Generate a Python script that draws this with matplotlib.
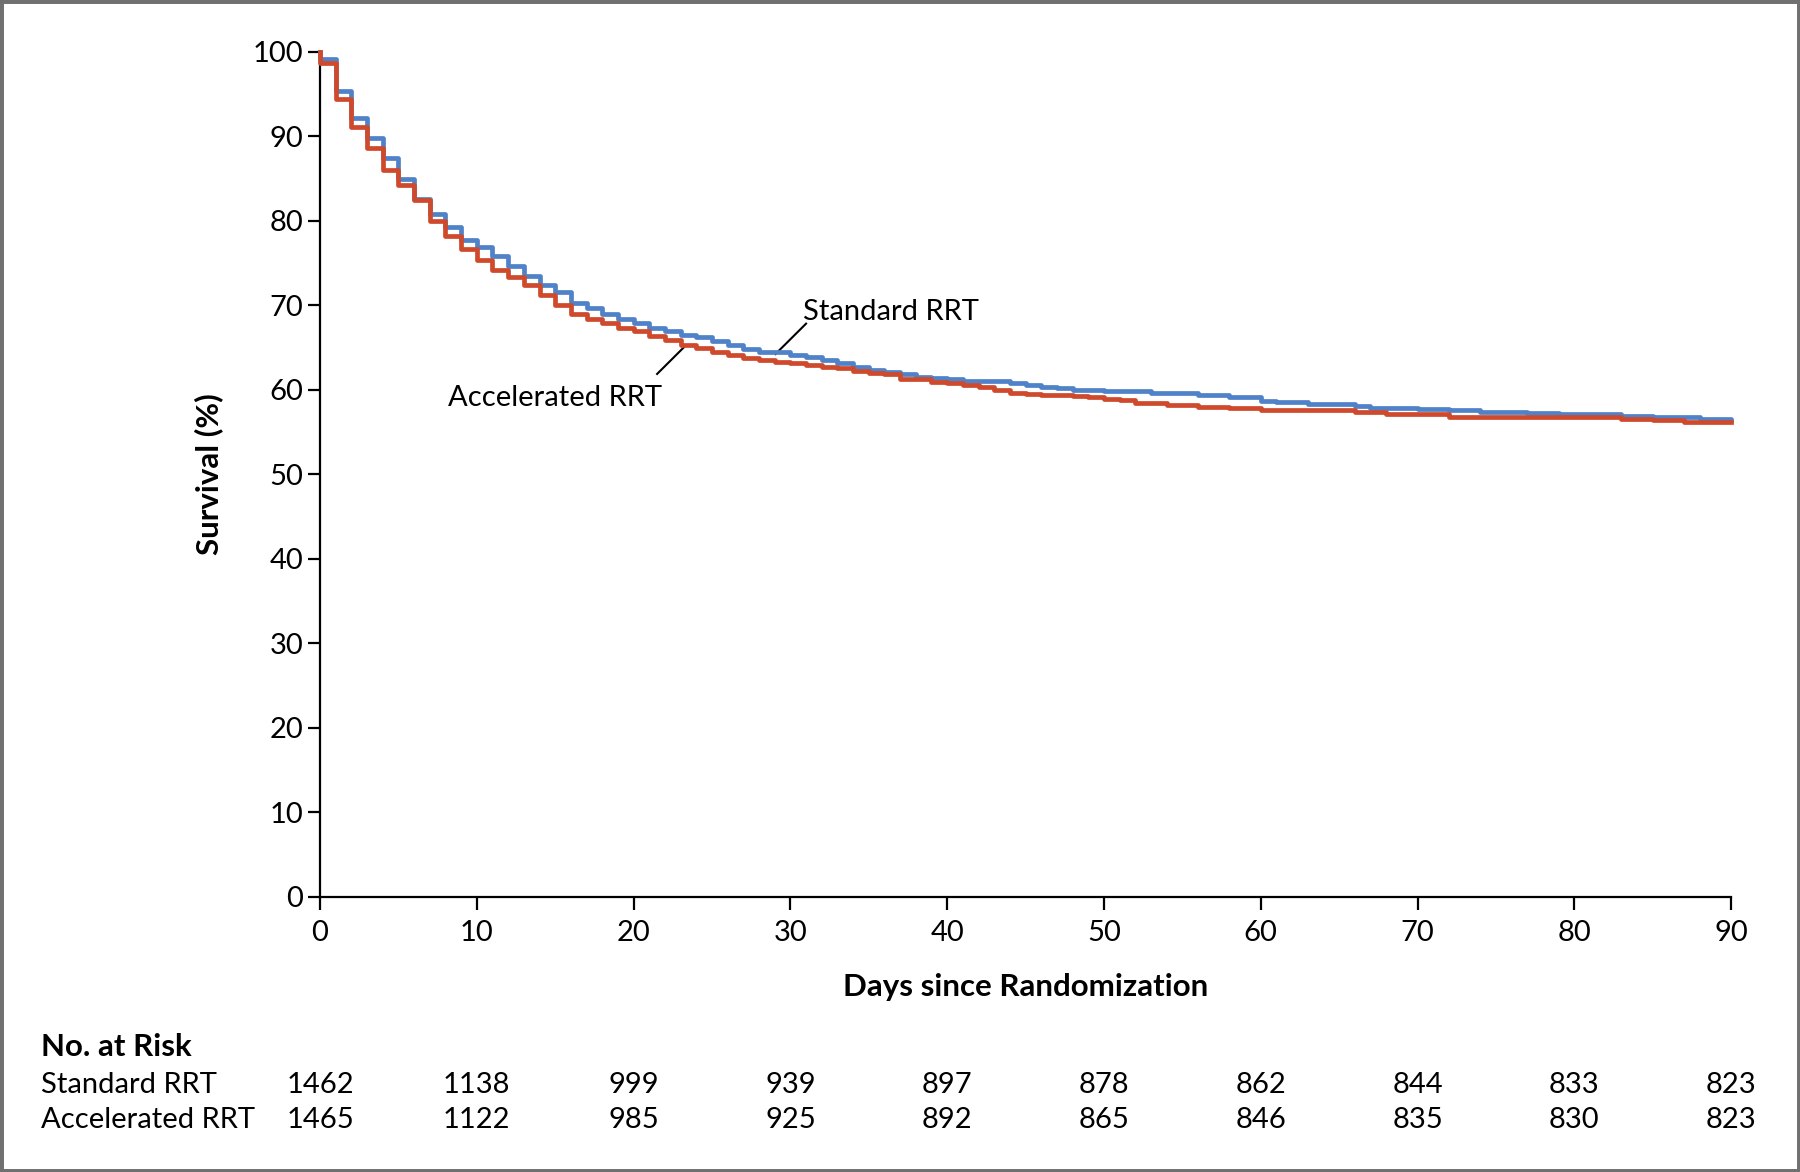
import matplotlib.pyplot as plt
import matplotlib.patches as mpatches
import matplotlib.transforms as mtransforms

plt.rcParams['font.family'] = ['Lato', 'DejaVu Sans']

# Kaplan-Meier step data (day, survival %)
std_days = [0, 0, 1, 2, 3, 4, 5, 6, 7, 8, 9, 10, 11, 12, 13, 14, 15, 16, 17, 18, 19,
            20, 21, 22, 23, 24, 25, 26, 27, 28, 30, 31, 32, 33, 34, 35, 36, 37, 38, 39,
            40, 41, 44, 45, 46, 47, 48, 49, 50, 51, 53, 56, 58, 60, 61, 63, 66, 67, 70,
            72, 74, 77, 79, 83, 85, 88, 90]
std_surv = [100, 99.1, 95.3, 92.1, 89.8, 87.4, 84.9, 82.5, 80.8, 79.2, 77.7, 76.9, 75.8,
            74.6, 73.4, 72.4, 71.5, 70.2, 69.6, 68.9, 68.3, 67.9, 67.3, 66.9, 66.5, 66.2,
            65.7, 65.3, 64.8, 64.5, 64.1, 63.8, 63.5, 63.1, 62.7, 62.3, 62.1, 61.8, 61.5,
            61.4, 61.2, 61.0, 60.8, 60.6, 60.35, 60.15, 60.0, 59.95, 59.85, 59.8, 59.65,
            59.4, 59.1, 58.7, 58.5, 58.3, 58.1, 57.8, 57.75, 57.6, 57.4, 57.2, 57.1, 56.9,
            56.7, 56.5, 56.4]

acc_days = [0, 0, 1, 2, 3, 4, 5, 6, 7, 8, 9, 10, 11, 12, 13, 14, 15, 16, 17, 18, 19,
            20, 21, 22, 23, 24, 25, 26, 27, 28, 29, 30, 31, 32, 33, 34, 35, 36, 37, 39,
            40, 41, 42, 43, 44, 45, 46, 48, 49, 50, 51, 52, 54, 56, 58, 60, 66, 68, 72,
            74, 83, 85, 87, 90]
acc_surv = [100, 98.6, 94.4, 91.1, 88.6, 86.0, 84.2, 82.4, 80.0, 78.2, 76.6, 75.3, 74.2,
            73.3, 72.4, 71.2, 70.0, 69.0, 68.4, 67.9, 67.3, 66.9, 66.3, 65.9, 65.3, 64.9,
            64.5, 64.1, 63.7, 63.5, 63.3, 63.1, 62.9, 62.7, 62.5, 62.2, 62.0, 61.85, 61.2,
            60.95, 60.75, 60.6, 60.3, 59.95, 59.65, 59.5, 59.4, 59.2, 59.1, 58.9, 58.75,
            58.4, 58.2, 57.9, 57.8, 57.6, 57.3, 57.1, 56.8, 56.7, 56.55, 56.45, 56.2, 56.2]

risk_days = [0, 10, 20, 30, 40, 50, 60, 70, 80, 90]
risk_std = [1462, 1138, 999, 939, 897, 878, 862, 844, 833, 823]
risk_acc = [1465, 1122, 985, 925, 892, 865, 846, 835, 830, 823]

blue = '#4f82c8'
red = '#cf4a2c'
fs = 21
fs_bold = 22.5

fig = plt.figure(figsize=(18, 11.72), dpi=100)
ax = fig.add_axes([0.1778, 0.235, 0.7839, 0.721])

ax.step(std_days, std_surv, where='post', color=blue, lw=3.4, clip_on=False, zorder=3)
ax.step(acc_days, acc_surv, where='post', color=red, lw=3.4, clip_on=False, zorder=4)

ax.set_xlim(0, 90)
ax.set_ylim(0, 100)
ax.set_xticks(range(0, 91, 10))
ax.set_yticks(range(0, 101, 10))
for s in ['top', 'right']:
    ax.spines[s].set_visible(False)
for s in ['left', 'bottom']:
    ax.spines[s].set_linewidth(1.6)
ax.tick_params(length=9, width=1.6, labelsize=fs, pad=3)
ax.tick_params(axis='x', pad=8)

ax.set_ylabel('Survival (%)', fontsize=fs_bold, fontweight='bold')
ax.yaxis.set_label_coords(-0.069, 0.5)
ax.set_xlabel('Days since Randomization', fontsize=fs_bold, fontweight='bold')
ax.xaxis.set_label_coords(0.5, -0.091)

# curve labels with leader lines
ax.text(30.8, 68.2, 'Standard RRT', fontsize=fs, ha='left', va='baseline')
ax.plot([31.0, 29.05], [67.8, 64.2], color='black', lw=1.5)
ax.text(21.8, 58.0, 'Accelerated RRT', fontsize=fs, ha='right', va='baseline')
ax.plot([23.26, 21.5], [65.1, 61.85], color='black', lw=1.5)

# number at risk table
trans = mtransforms.blended_transform_factory(ax.transData, fig.transFigure)
fig.text(0.0228, 0.1064, 'No. at Risk', fontsize=fs_bold, fontweight='bold', va='center')
fig.text(0.0228, 0.0739, 'Standard RRT', fontsize=fs, va='center')
fig.text(0.0228, 0.0441, 'Accelerated RRT', fontsize=fs, va='center')
for d, a, b in zip(risk_days, risk_std, risk_acc):
    ax.text(d, 0.0739, str(a), transform=trans, fontsize=fs, ha='center', va='center')
    ax.text(d, 0.0441, str(b), transform=trans, fontsize=fs, ha='center', va='center')

fig.patches.append(mpatches.Rectangle((0, 0), 1, 1, transform=fig.transFigure,
                                      fill=False, edgecolor='#707070', lw=5))

fig.savefig('out.png', dpi=100)
